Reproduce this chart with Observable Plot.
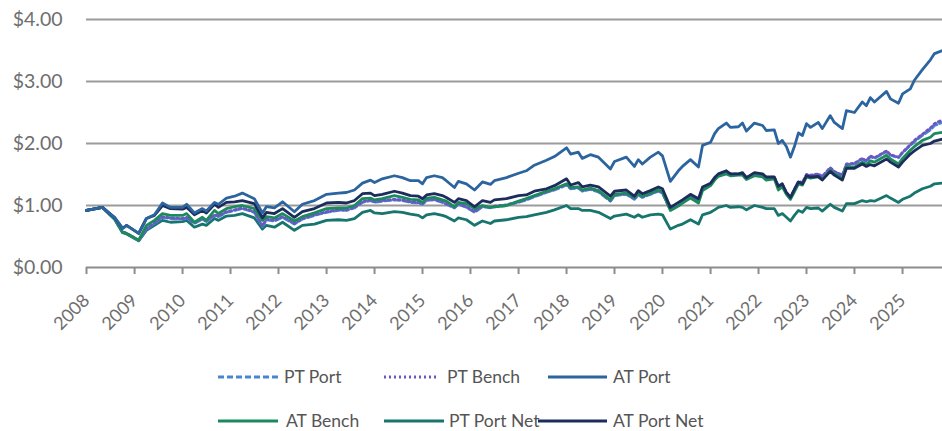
<!DOCTYPE html>
<html>
<head>
<meta charset="utf-8">
<script src="https://cdn.jsdelivr.net/npm/d3@7"></script>
<script src="https://cdn.jsdelivr.net/npm/@observablehq/plot@0.6"></script>
<style>
  html, body { margin: 0; padding: 0; background: #fff; }
  #wrap { position: relative; width: 942px; height: 431px; font-family: Lato, "Open Sans", sans-serif; }
  #chart { position: absolute; left: 0; top: 0; }
  #legend { position: absolute; left: 0; top: 340px; }
</style>
</head>
<body>
<div id="wrap">
  <div id="chart"></div>
  <svg id="legend" width="942" height="91" xmlns="http://www.w3.org/2000/svg"></svg>
</div>
<script>
const dates = ["2008-01","2008-05","2008-07","2008-08","2008-10","2008-11","2009-02","2009-04","2009-06","2009-08",
"2009-10","2010-01","2010-02","2010-04","2010-06","2010-07","2010-09","2010-10","2010-12","2011-02",
"2011-04","2011-07","2011-09","2011-10","2011-12","2012-02","2012-05","2012-07","2012-10","2013-01",
"2013-04","2013-06","2013-08","2013-10","2013-12","2014-01","2014-03","2014-06","2014-08","2014-10",
"2014-12","2015-01","2015-02","2015-04","2015-06","2015-07","2015-09","2015-10","2015-12","2016-02",
"2016-04","2016-06","2016-07","2016-10","2017-01","2017-03","2017-05","2017-08","2017-10","2018-01",
"2018-02","2018-04","2018-05","2018-07","2018-09","2018-12","2019-01","2019-04","2019-06","2019-07",
"2019-08","2019-10","2019-12","2020-01","2020-03","2020-05","2020-06","2020-08","2020-10","2020-11",
"2021-01","2021-02","2021-03","2021-05","2021-06","2021-08","2021-09","2021-10","2021-12","2022-02",
"2022-03","2022-05","2022-06","2022-07","2022-08","2022-09","2022-10","2022-11","2022-12","2023-01",
"2023-02","2023-04","2023-05","2023-07","2023-08","2023-10","2023-11","2024-01","2024-03","2024-04",
"2024-05","2024-06","2024-09","2024-10","2024-12","2025-01","2025-03","2025-04","2025-06","2025-08",
"2025-09","2025-11"];

const atPort = [.92,.97,.86,.81,.63,.68,.55,.79,.85,1.04,
.97,.97,1.02,.88,.95,.91,1.05,1.02,1.12,1.15,
1.20,1.11,.88,.98,.96,1.06,.90,1.02,1.08,1.18,
1.20,1.21,1.25,1.36,1.41,1.37,1.43,1.48,1.45,1.40,
1.40,1.35,1.45,1.48,1.45,1.40,1.29,1.39,1.35,1.25,
1.38,1.34,1.40,1.45,1.52,1.56,1.65,1.73,1.79,1.93,
1.83,1.86,1.76,1.82,1.78,1.59,1.71,1.78,1.63,1.74,
1.67,1.78,1.86,1.80,1.39,1.56,1.63,1.74,1.62,1.97,
2.02,2.16,2.24,2.33,2.26,2.27,2.33,2.20,2.33,2.29,
2.21,2.22,2.00,2.05,1.95,1.78,1.95,2.17,2.13,2.32,
2.26,2.34,2.24,2.45,2.34,2.24,2.53,2.50,2.67,2.61,
2.74,2.67,2.84,2.72,2.65,2.80,2.88,3.02,3.19,3.35,3.45,3.50];

const atPortNet = [.92,.97,.86,.81,.63,.68,.55,.79,.84,1.00,
.95,.94,.97,.85,.92,.88,1.02,.97,1.05,1.06,
1.08,1.03,.80,.89,.87,.95,.81,.90,.95,1.04,
1.05,1.04,1.08,1.19,1.20,1.16,1.18,1.23,1.20,1.16,
1.15,1.11,1.17,1.19,1.16,1.13,1.05,1.11,1.08,.98,
1.08,1.05,1.09,1.11,1.16,1.17,1.23,1.27,1.32,1.43,
1.33,1.37,1.30,1.33,1.30,1.15,1.23,1.25,1.15,1.24,
1.19,1.24,1.30,1.27,.97,1.05,1.09,1.18,1.11,1.30,
1.36,1.45,1.51,1.56,1.51,1.51,1.53,1.45,1.53,1.51,
1.46,1.46,1.31,1.35,1.21,1.13,1.26,1.38,1.35,1.48,
1.46,1.47,1.41,1.55,1.49,1.41,1.60,1.60,1.67,1.63,
1.66,1.64,1.75,1.70,1.62,1.70,1.83,1.88,1.97,2.00,2.04,2.07];

const atBench = [.92,.97,.85,.79,.57,.55,.44,.68,.76,.87,
.84,.84,.87,.73,.81,.76,.92,.87,.95,.98,
1.00,.95,.76,.82,.80,.87,.75,.82,.88,.95,
.96,.96,1.00,1.11,1.12,1.09,1.11,1.16,1.13,1.10,
1.09,1.05,1.12,1.13,1.09,1.07,.98,1.05,1.03,.95,
1.00,.97,.98,1.00,1.07,1.11,1.16,1.23,1.27,1.35,
1.29,1.30,1.25,1.28,1.24,1.09,1.18,1.20,1.13,1.19,
1.15,1.20,1.25,1.22,.92,.99,1.04,1.12,1.04,1.24,
1.32,1.41,1.47,1.51,1.48,1.49,1.49,1.42,1.48,1.46,
1.41,1.43,1.25,1.30,1.18,1.10,1.22,1.35,1.33,1.46,
1.44,1.46,1.42,1.57,1.51,1.44,1.63,1.62,1.70,1.66,
1.72,1.70,1.81,1.75,1.67,1.76,1.89,1.95,2.05,2.10,2.16,2.18];

const ptPort = [.92,.97,.85,.79,.57,.55,.44,.62,.71,.81,
.79,.78,.80,.71,.78,.74,.84,.82,.89,.92,
.95,.89,.66,.77,.75,.81,.70,.78,.84,.89,
.92,.92,.96,1.05,1.08,1.05,1.07,1.09,1.08,1.05,
1.04,1.02,1.08,1.09,1.05,1.02,.96,1.02,.97,.89,
.98,.96,.98,1.00,1.05,1.09,1.14,1.21,1.25,1.33,
1.27,1.28,1.23,1.26,1.22,1.07,1.16,1.18,1.10,1.17,
1.13,1.18,1.23,1.20,.93,1.00,1.05,1.14,1.07,1.27,
1.34,1.43,1.49,1.54,1.50,1.50,1.51,1.44,1.51,1.49,
1.44,1.45,1.29,1.33,1.20,1.12,1.25,1.38,1.36,1.49,
1.48,1.50,1.46,1.60,1.54,1.48,1.66,1.67,1.75,1.71,
1.79,1.76,1.87,1.81,1.77,1.85,1.97,2.03,2.13,2.22,2.29,2.34];

const ptBench = [.92,.97,.85,.79,.57,.55,.44,.63,.72,.82,
.80,.79,.81,.72,.79,.75,.85,.83,.90,.93,
.96,.90,.67,.78,.76,.82,.71,.79,.85,.90,
.93,.93,.97,1.06,1.09,1.06,1.08,1.10,1.09,1.06,
1.05,1.03,1.09,1.10,1.06,1.03,.97,1.03,.98,.90,
.99,.97,.99,1.01,1.06,1.10,1.15,1.22,1.26,1.34,
1.28,1.29,1.24,1.27,1.23,1.08,1.17,1.19,1.11,1.18,
1.14,1.19,1.24,1.21,.94,1.01,1.06,1.15,1.08,1.28,
1.35,1.44,1.50,1.55,1.51,1.51,1.52,1.45,1.52,1.50,
1.45,1.46,1.30,1.34,1.21,1.13,1.26,1.39,1.37,1.50,
1.49,1.51,1.47,1.61,1.55,1.49,1.67,1.68,1.76,1.72,
1.80,1.77,1.88,1.82,1.78,1.86,1.98,2.05,2.15,2.25,2.32,2.38];

const ptPortNet = [.92,.97,.84,.78,.56,.54,.43,.60,.68,.76,
.73,.74,.76,.65,.70,.68,.79,.76,.83,.84,
.87,.80,.62,.68,.65,.73,.60,.68,.70,.76,
.77,.76,.79,.89,.92,.88,.87,.90,.89,.86,
.84,.80,.85,.87,.84,.82,.75,.80,.77,.68,
.75,.71,.75,.77,.81,.82,.85,.89,.93,1.00,
.95,.95,.92,.92,.89,.79,.83,.86,.81,.85,
.81,.85,.86,.85,.62,.68,.70,.77,.70,.85,
.89,.93,.97,1.00,.97,.98,.97,.93,1.00,.97,
.95,.95,.84,.87,.81,.75,.84,.92,.89,.97,
.95,.96,.91,1.02,.97,.91,1.03,1.03,1.08,1.06,
1.08,1.07,1.16,1.12,1.05,1.10,1.15,1.20,1.27,1.31,1.35,1.36];

const yTicks = [0, 1, 2, 3, 4];
const yearLabels = ["2008","2009","2010","2011","2012","2013","2014","2015","2016","2017","2018","2019","2020","2021","2022","2023","2024","2025"];

const seriesNames = ["PT Port","PT Bench","AT Port","AT Bench","PT Port Net","AT Port Net"];
const seriesValues = [ptPort, ptBench, atPort, atBench, ptPortNet, atPortNet];
const seriesColors = ["#4a86d0","#6b57c2","#2b649e","#1b8a5c","#17756e","#1c2d5c"];
const seriesDash = ["6,3","2,3",null,null,null,null];

const parse = d3.utcParse("%Y-%m");
const rows = seriesNames.flatMap((name, i) =>
  dates.map((d, j) => ({name, date: parse(d), value: seriesValues[i][j]})));

const drawOrder = ["PT Port Net","PT Port","PT Bench","AT Bench","AT Port Net","AT Port"];
const lineMarks = drawOrder.map(name => {
  const i = seriesNames.indexOf(name);
  return Plot.line(rows.filter(r => r.name === name), {
    x: "date", y: "value",
    stroke: seriesColors[i], strokeWidth: 2.8,
    strokeDasharray: seriesDash[i] || undefined,
    strokeLinejoin: "round"
  });
});

const chart = Plot.plot({
  width: 942,
  height: 340,
  marginLeft: 86,
  marginRight: 0,
  marginTop: 19,
  marginBottom: 73,
  style: {fontFamily: "Lato, 'Open Sans', sans-serif", fontSize: "18px", color: "#6e6e6e", background: "white"},
  x: {type: "utc", domain: [parse("2008-01"), parse("2025-11")]},
  y: {domain: [0, 4]},
  marks: [
    Plot.ruleY(yTicks.filter(v => v > 0), {stroke: "#9b9b9b", strokeWidth: 2}),
    Plot.axisY({ticks: yTicks, tickFormat: d3.format("$.2f"), tickSize: 0, tickPadding: 24, fontSize: 19.5, label: null}),
    Plot.axisX({
      ticks: yearLabels.map(y => d3.utcParse("%Y")(y)),
      tickFormat: d3.utcFormat("%Y"),
      tickSize: 7, tickPadding: 23, tickRotate: -45,
      stroke: "#8c8c8c", strokeWidth: 2, fontSize: 18, label: null
    }),
    Plot.ruleY([0], {stroke: "#8c8c8c", strokeWidth: 2}),
    ...lineMarks
  ]
});
document.getElementById("chart").appendChild(chart);

// legend (single SVG below the chart)
const legendLayout = [
  {name: "PT Port",     x0: 218, x1: 278, tx: 284, y: 37},
  {name: "PT Bench",    x0: 384, x1: 438, tx: 447, y: 37},
  {name: "AT Port",     x0: 548, x1: 607, tx: 613, y: 37},
  {name: "AT Bench",    x0: 218, x1: 278, tx: 286, y: 81},
  {name: "PT Port Net", x0: 384, x1: 444, tx: 449, y: 81},
  {name: "AT Port Net", x0: 538, x1: 607, tx: 613, y: 81}
];
const ns = "http://www.w3.org/2000/svg";
const legend = document.getElementById("legend");
legendLayout.forEach(L => {
  const i = seriesNames.indexOf(L.name);
  const ln = document.createElementNS(ns, "line");
  ln.setAttribute("x1", L.x0); ln.setAttribute("x2", L.x1);
  ln.setAttribute("y1", L.y); ln.setAttribute("y2", L.y);
  ln.setAttribute("stroke", seriesColors[i]);
  ln.setAttribute("stroke-width", 2.8);
  if (seriesDash[i]) ln.setAttribute("stroke-dasharray", seriesDash[i]);
  legend.appendChild(ln);
  const tx = document.createElementNS(ns, "text");
  tx.setAttribute("x", L.tx); tx.setAttribute("y", L.y);
  tx.setAttribute("dy", "0.35em");
  tx.setAttribute("font-family", "Lato, 'Open Sans', sans-serif");
  tx.setAttribute("font-size", "17.5");
  tx.setAttribute("fill", "#555");
  tx.textContent = L.name;
  legend.appendChild(tx);
});
</script>
</body>
</html>
